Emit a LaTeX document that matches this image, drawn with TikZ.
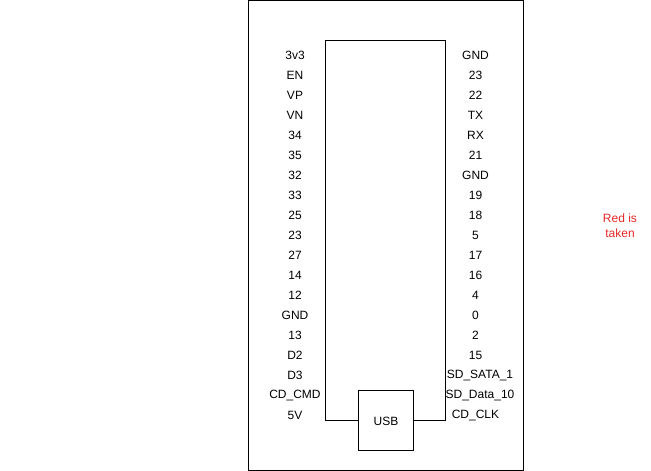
\documentclass[tikz,border=0pt]{standalone}
\usepackage{fontspec}
\setmainfont{Liberation Sans}
\definecolor{redtxt}{HTML}{E62828}
\begin{document}
\begin{tikzpicture}[x=1pt,y=-1pt,
  box/.style={draw=black,line width=1pt,fill=none},
  lbl/.style={inner sep=0pt,font=\fontsize{12}{14}\selectfont,anchor=center},
  wire/.style={draw=black,line width=1pt}]
\useasboundingbox (0,0) rectangle (651,471);
\node[box,minimum width=275pt,minimum height=470pt,inner sep=0pt] (outer) at (386,235.5) {};
\coordinate (tl) at (325.5,40.5);
\coordinate (tr) at (445.5,40.5);
\node[box,minimum width=55pt,minimum height=60pt,inner sep=0pt] (usb) at (386,420.5) {};
\node[lbl] (usbt) at (386,421) {USB};
\draw[wire] (usb.west) -| (tl) -- (tr) |- (usb.east);
\foreach \t [count=\i from 0] in {3v3,EN,VP,VN,34,35,32,33,25,23,27,14,12,GND,13,D2,D3,CD\_CMD,5V}{
  \node[lbl] (l\i) at (295,{55+20*\i}) {\t};
}
\foreach \t [count=\i from 0] in {GND,23,22,TX,RX,21,GND,19,18,5,17,16,4,0,2,15}{
  \node[lbl] (r\i) at (475.5,{55+20*\i}) {\t};
}
\node[lbl] (r16) at (480,375) {SD\_SATA\_1};
\node[lbl] (r17) at (480,395) {SD\_Data\_10};
\node[lbl] (r18) at (475.5,415) {CD\_CLK};
\node[lbl,text=redtxt,align=center,font=\fontsize{12}{15}\selectfont] (red) at (620,226) {Red is\\taken};
\end{tikzpicture}
\end{document}
